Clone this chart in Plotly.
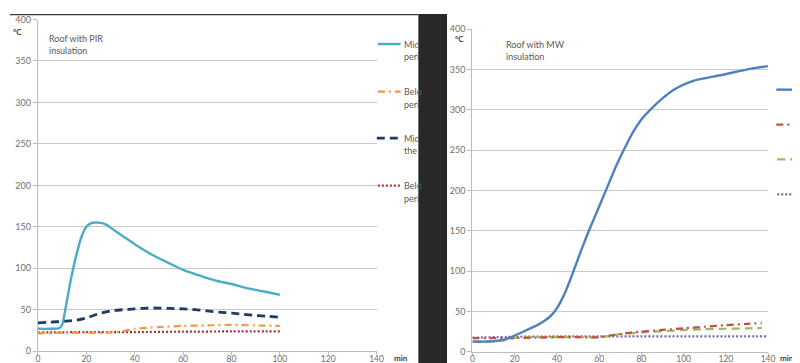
import plotly.graph_objects as go

# ---------------- data ----------------
# Left panel: roof with PIR insulation
pir_mid_x = [0, 5, 9, 10, 11.6, 13.5, 15.7, 18, 20, 22, 25, 28, 30, 35, 40, 45, 50, 55, 60, 65, 70, 75, 80, 85, 90, 95, 100]
pir_mid_y = [27, 27, 28, 32, 55, 85, 114, 138, 150, 154.5, 155, 153, 149, 139, 129, 120, 112, 105, 98, 93, 88, 84, 81, 77, 74, 71, 68]
pir_below_x = [0, 10, 20, 30, 35, 40, 50, 60, 70, 80, 90, 100]
pir_below_y = [21.5, 22, 22, 22.5, 24, 27, 29, 30.5, 31, 31.7, 31, 30.5]
pir_mid2_x = [0, 5, 10, 15, 20, 25, 30, 35, 40, 45, 50, 55, 60, 65, 70, 75, 80, 85, 90, 95, 100]
pir_mid2_y = [34, 35, 36, 37, 40, 45, 48.5, 50, 51, 52, 52, 51.5, 51, 50, 48.5, 47, 46, 44.5, 43, 42, 41]
pir_below2_x = [0, 20, 40, 60, 80, 100]
pir_below2_y = [22.5, 23, 23, 23.5, 23.8, 23.8]

# Right panel: roof with MW insulation
mw_mid_x = [0, 5, 10, 15, 20, 25, 30, 35, 38, 40, 42, 44, 46, 48, 50, 52, 55, 60, 64, 68, 72, 76, 80, 85, 90, 95, 100, 105, 110, 118, 125, 132, 140]
mw_mid_y = [12.5, 12.5, 13, 15, 20, 26, 32, 40, 47, 54, 63, 74, 87, 101, 115, 129, 149, 180, 205, 230, 252, 272, 288, 302, 314, 324, 331, 336, 339, 343, 347, 351, 354]
mw_b_x = [0, 10, 20, 30, 40, 50, 60, 65, 70, 80, 90, 100, 110, 120, 130, 137]
mw_b_y = [17, 17, 17, 17.5, 18, 18, 18, 20, 22, 25, 27, 29, 31, 33, 34.5, 35.5]
mw_c_x = [0, 10, 15, 20, 30, 40, 50, 60, 65, 70, 75, 80, 90, 100, 110, 120, 130, 137]
mw_c_y = [13, 13, 14, 17, 18, 18, 18, 18, 19.5, 22, 23, 24, 25.5, 27, 28, 28.5, 29, 29.5]
mw_d_x = [0, 20, 40, 60, 80, 100, 120, 140]
mw_d_y = [17.5, 18.5, 19, 19, 19, 19, 19, 19]

x_ticks = [0, 20, 40, 60, 80, 100, 120, 140]
y_ticks = [0, 50, 100, 150, 200, 250, 300, 350, 400]

# ---------------- styles ----------------
W, H = 800, 363
def px(x): return x / W
def py(y): return 1 - y / H

TEAL, ORANGE, NAVY, MAROON = "#4BACC6", "#F79646", "#1F3A64", "#953735"
BLUE, RED, GREEN, PURPLE = "#4F81BD", "#C0504D", "#9BBB59", "#8064A2"
DASHDOT = "7px,4px,2px,4px"
DASH = "8px,5px"
DOT = "2px,2px"
FONT = "Lato, Carlito, Calibri, sans-serif"

fig = go.Figure()

def add(x, y, color, dash, width, xa, ya):
    fig.add_trace(go.Scatter(x=x, y=y, mode="lines", xaxis=xa, yaxis=ya,
                             line=dict(color=color, dash=dash, width=width, shape="spline", smoothing=0.7),
                             showlegend=False, hoverinfo="skip"))

add(pir_below2_x, pir_below2_y, MAROON, DOT, 2.2, "x", "y")
add(pir_below_x, pir_below_y, ORANGE, DASHDOT, 2.2, "x", "y")
add(pir_mid2_x, pir_mid2_y, NAVY, DASH, 2.8, "x", "y")
add(pir_mid_x, pir_mid_y, TEAL, "solid", 2.4, "x", "y")

add(mw_d_x, mw_d_y, PURPLE, DOT, 2.2, "x2", "y2")
add(mw_c_x, mw_c_y, GREEN, DASH, 2.2, "x2", "y2")
add(mw_b_x, mw_b_y, RED, DASHDOT, 2.2, "x2", "y2")
add(mw_mid_x, mw_mid_y, BLUE, "solid", 2.4, "x2", "y2")

axis_common = dict(showgrid=True, gridcolor="#C9C9C9", gridwidth=1.3, zeroline=False,
                   showline=True, linecolor="#BDBDBD", linewidth=1.3,
                   ticks="outside", ticklen=4, tickcolor="#BDBDBD",
                   tickfont=dict(family=FONT, size=9, color="#707070"))

xcommon = dict(axis_common, range=[0, 140], tickvals=x_ticks, showgrid=False, ticklen=3,
               ticklabelstandoff=-4, tickfont=dict(family=FONT, size=8.5, color="#707070"))
ycommon = dict(axis_common, range=[0, 400], tickvals=y_ticks)

fig.update_layout(
    width=W, height=H, margin=dict(l=0, r=0, t=0, b=0),
    paper_bgcolor="white", plot_bgcolor="white",
    xaxis=dict(xcommon, domain=[px(28.3), px(370.7)], anchor="y"),
    yaxis=dict(ycommon, domain=[py(347.7), py(5.7)], anchor="x"),
    xaxis2=dict(xcommon, domain=[px(467.7), px(766.7)], anchor="y2"),
    yaxis2=dict(ycommon, domain=[py(348.3), py(15.5)], anchor="x2"),
)

ann = []
def text(x, y, s, size=9, color="#595959", bold=False, anchor="left"):
    ann.append(dict(x=px(x), y=py(y), xref="paper", yref="paper", text=("<b>%s</b>" % s) if bold else s,
                    showarrow=False, xanchor=anchor, yanchor="middle", borderpad=0,
                    font=dict(family=FONT, size=size, color=color)))

# titles inside plots
text(38, 25, "Roof with PIR", 9)
text(38, 38, "insulation", 9)
text(501, 31, "Roof with MW", 9)
text(501, 44, "insulation", 9)
# unit labels
text(8, 19, "°C", 8, "#404040", True, "center")
text(455, 26, "°C", 8, "#404040", True, "center")
text(395, 355, "min", 8, "#404040", True, "center")
text(786, 355, "min", 8, "#404040", True, "center")
# left legend texts (cut by the dark gap)
for y0, a, b in [(31, "Mid", "peri"), (80, "Belo", "peri"), (128, "Mid", "the"), (177, "Belo", "peri")]:
    text(397, y0, a, 9)
    text(397, y0 + 13, b, 9)

shapes = []
def seg(x0, x1, y, color, dash, width):
    shapes.append(dict(type="line", xref="paper", yref="paper", x0=px(x0), x1=px(x1), y0=py(y), y1=py(y),
                       line=dict(color=color, dash=dash, width=width)))

seg(372, 395, 31, TEAL, "solid", 2.4)
seg(372, 395, 80, ORANGE, DASHDOT, 2.2)
seg(371, 395, 128, NAVY, DASH, 2.8)
seg(372, 395, 177, MAROON, DOT, 2.2)
seg(775, 800, 78, BLUE, "solid", 2.4)
seg(775, 800, 114, RED, DASHDOT, 2.2)
seg(776, 800, 150, GREEN, DASH, 2.2)
seg(776, 800, 186, PURPLE, DOT, 2.2)

# dark gap between the two screenshots and thin dark top edge on left
shapes.append(dict(type="rect", xref="paper", yref="paper", x0=px(413), x1=px(442), y0=0, y1=1,
                   fillcolor="#282828", line=dict(width=0), layer="above"))
shapes.append(dict(type="rect", xref="paper", yref="paper", x0=0, x1=px(413), y0=py(1.2), y1=1,
                   fillcolor="#3a3a3a", line=dict(width=0), layer="above"))

fig.update_layout(annotations=ann, shapes=shapes)
fig.write_html("out.html")
